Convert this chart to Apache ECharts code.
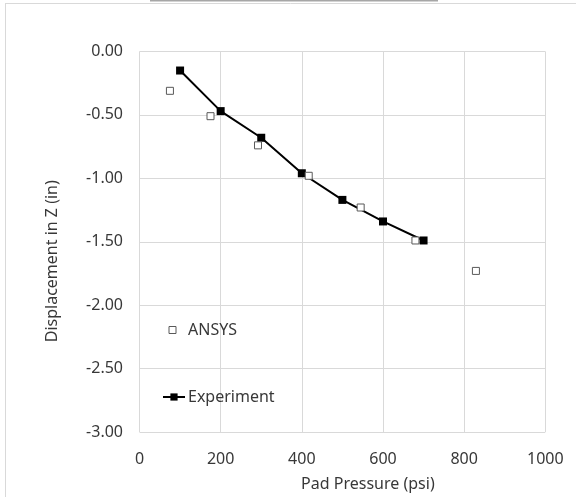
<!DOCTYPE html>
<html>
<head>
<meta charset="utf-8">
<script src="https://cdn.jsdelivr.net/npm/echarts@6/dist/echarts.min.js"></script>
<style>
html,body{margin:0;padding:0;background:#fff;}
#chart{width:576px;height:497px;}
</style>
</head>
<body>
<div id="chart"></div>
<script>
// Data
var experimentPressure = [100, 200, 300, 400, 500, 600, 700];
var experimentDisp = [-0.15, -0.47, -0.68, -0.96, -1.17, -1.34, -1.49];
var ansysPressure = [75, 175, 292, 417, 545, 680, 829];
var ansysDisp = [-0.31, -0.51, -0.74, -0.98, -1.23, -1.49, -1.73];
var xTicks = [0, 200, 400, 600, 800, 1000];
var yTicks = [0, -0.5, -1, -1.5, -2, -2.5, -3];

function pairs(xs, ys) {
  return xs.map(function (x, i) { return [x, ys[i]]; });
}

var font = 'Noto Sans';
var textColor = '#383838';
var gridColor = '#d9d9d9';

var chart = echarts.init(document.getElementById('chart'), null, { renderer: 'canvas' });
chart.setOption({
  animation: false,
  backgroundColor: '#fff',
  textStyle: { fontFamily: font },
  grid: { left: 139.5, right: 30.7, top: 51.5, bottom: 63, containLabel: false },
  xAxis: {
    type: 'value',
    min: xTicks[0],
    max: xTicks[xTicks.length - 1],
    interval: xTicks[1] - xTicks[0],
    name: 'Pad Pressure (psi)',
    nameLocation: 'middle',
    nameGap: 44,
    nameTextStyle: { color: textColor, fontSize: 16, fontFamily: font, padding: [0, 0, 0, 51] },
    axisLine: { show: false },
    axisTick: { show: false },
    axisLabel: {
      color: textColor, fontSize: 16, fontFamily: font, margin: 19,
      formatter: function (v) { return String(v); }
    },
    splitLine: { show: true, lineStyle: { color: gridColor, width: 1 } }
  },
  yAxis: {
    type: 'value',
    min: yTicks[yTicks.length - 1],
    max: yTicks[0],
    interval: 0.5,
    name: 'Displacement in Z (in)',
    nameLocation: 'middle',
    nameGap: 79,
    nameRotate: 90,
    nameTextStyle: { color: textColor, fontSize: 16, fontFamily: font, padding: [0, 39, 0, 0] },
    axisLine: { show: false },
    axisTick: { show: false },
    axisLabel: {
      color: textColor, fontSize: 16, fontFamily: font, margin: 16.5,
      formatter: function (v) { return (Math.abs(v) < 1e-9 ? 0 : v).toFixed(2); }
    },
    splitLine: { show: true, lineStyle: { color: gridColor, width: 1 } }
  },
  legend: [
    {
      data: ['ANSYS'],
      orient: 'vertical',
      left: 168.5,
      top: 322,
      padding: 0,
      itemWidth: 7,
      itemHeight: 7,
      itemGap: 0,
      itemStyle: { borderWidth: 1 },
      textStyle: { color: textColor, fontSize: 16, fontFamily: font, lineHeight: 16, padding: [0, 0, 0, 7] }
    },
    {
      data: ['Experiment'],
      orient: 'vertical',
      left: 162,
      top: 389,
      padding: 0,
      itemWidth: 22,
      itemHeight: 9,
      itemGap: 0,
      textStyle: { color: textColor, fontSize: 16, fontFamily: font, lineHeight: 16, padding: [0, 0, 0, -2] }
    }
  ],
  series: [
    {
      name: 'Experiment',
      type: 'line',
      data: pairs(experimentPressure, experimentDisp),
      symbol: 'rect',
      symbolSize: 8,
      showAllSymbol: true,
      lineStyle: { color: '#000', width: 2 },
      itemStyle: { color: '#000', borderWidth: 0 },
      z: 2
    },
    {
      name: 'ANSYS',
      type: 'scatter',
      data: pairs(ansysPressure, ansysDisp),
      symbol: 'rect',
      symbolSize: 7,
      itemStyle: { color: '#fff', borderColor: '#595959', borderWidth: 1, opacity: 1 },
      z: 3
    }
  ],
  graphic: [
    { type: 'rect', shape: { x: 150, y: 0, width: 288, height: 1.5 }, style: { fill: '#a6a6a6' }, silent: true },
    { type: 'line', shape: { x1: 5, y1: 3.5, x2: 576, y2: 3.5 }, style: { stroke: gridColor, lineWidth: 1 }, silent: true },
    { type: 'line', shape: { x1: 5.5, y1: 3.5, x2: 5.5, y2: 497 }, style: { stroke: gridColor, lineWidth: 1 }, silent: true }
  ]
});
</script>
</body>
</html>
